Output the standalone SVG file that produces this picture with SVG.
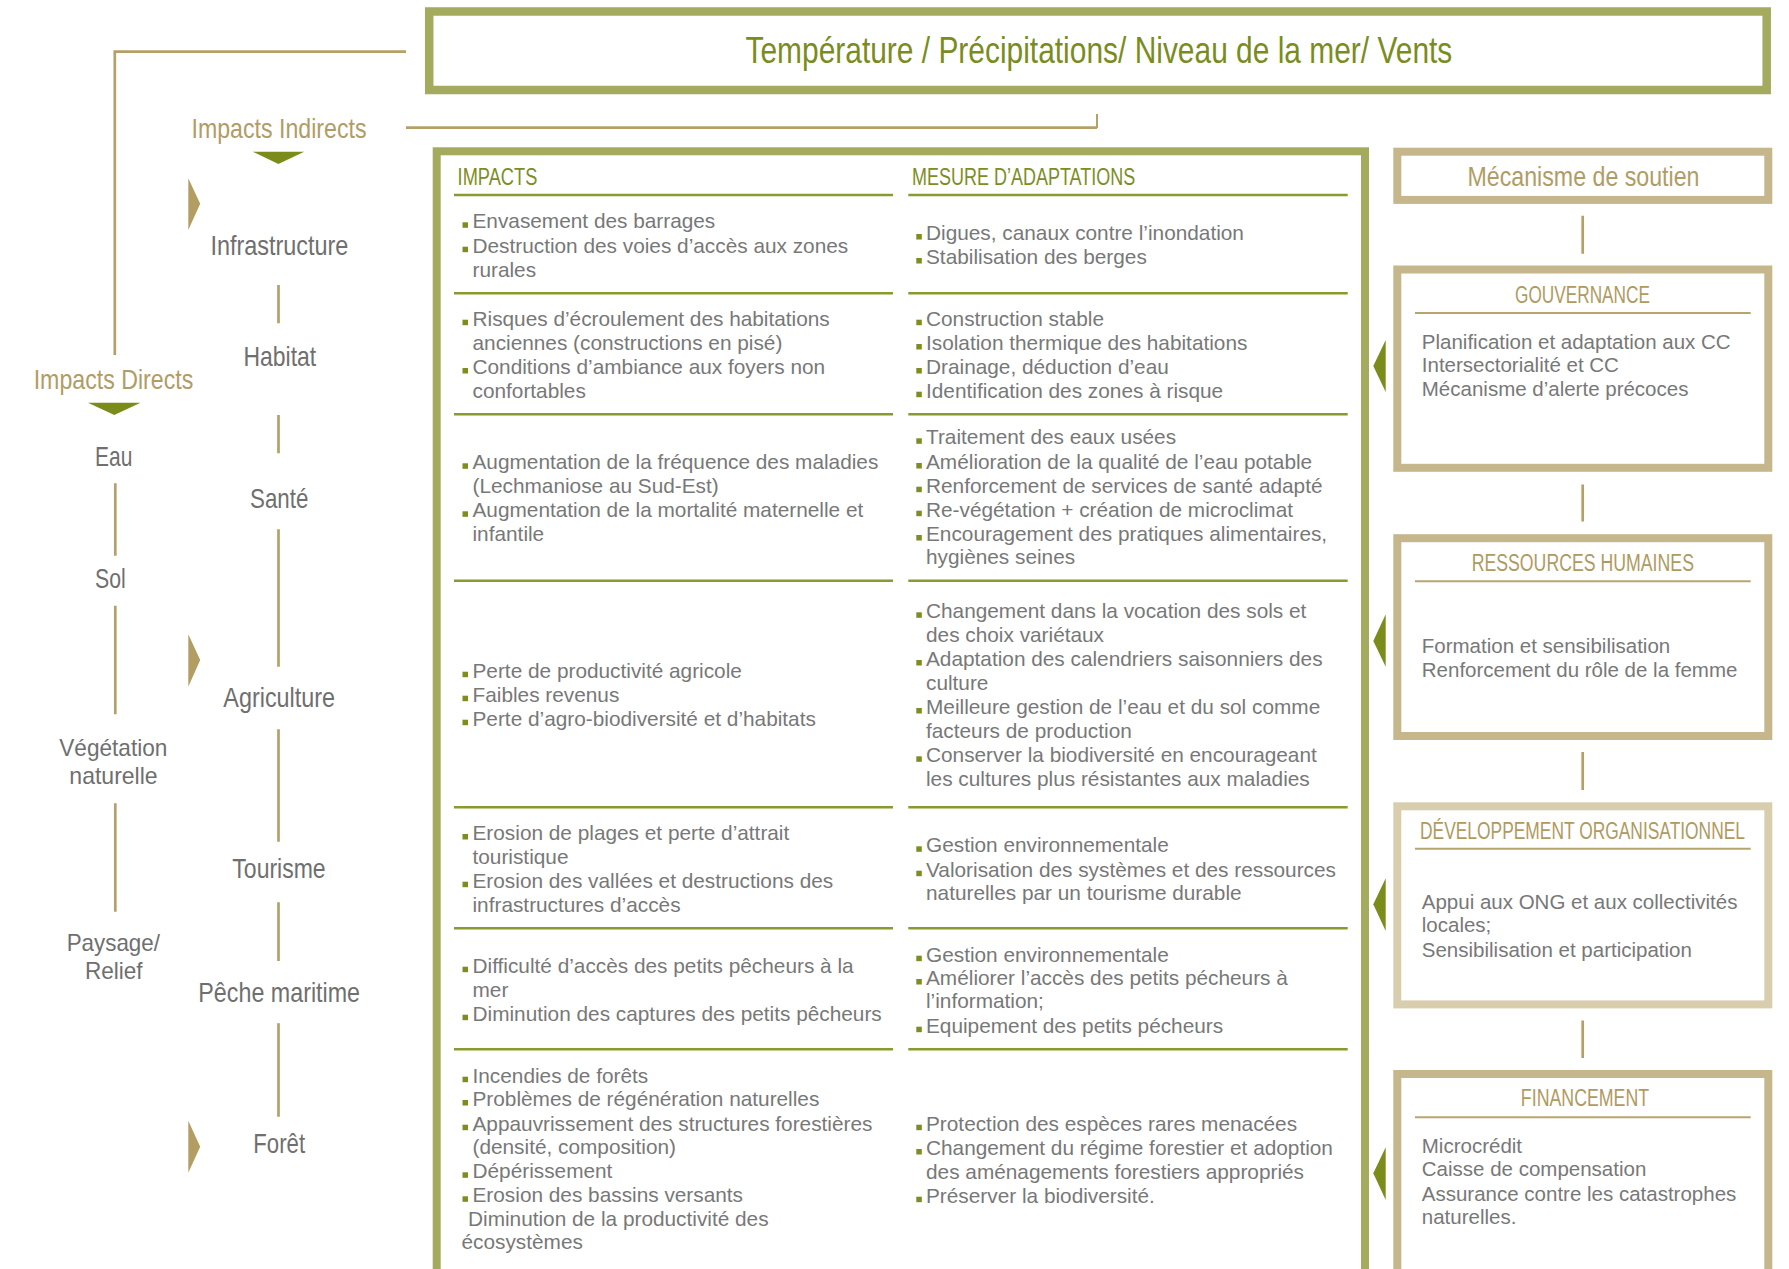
<svg xmlns="http://www.w3.org/2000/svg" width="1789" height="1269" viewBox="0 0 1789 1269">
<style>
text{font-family:"Liberation Sans",Arial,sans-serif}
.lbl{font-size:28px;fill:#6f6f6f}
.lbl2{font-size:24px;fill:#6f6f6f}
.tan{fill:#b19c65}
.title{font-size:36px;fill:#7b8c1e}
.hd{font-size:23px;fill:#7d8d1f}
.rh{font-size:23.5px;fill:#b09a60}
.body{font-size:20.8px;fill:#787878}
.rb{font-size:20.5px;fill:#787878}
.bul{fill:#7d8d1f}
.sep{stroke:#8a9a2c;stroke-width:2.5}
.ln{stroke:#b5a069;stroke-width:2.7;fill:none}
.gbox{fill:none;stroke:#a4aa5e}
.tbox{fill:none;stroke:#c6b68b;stroke-width:8}
.tline{stroke:#b8a46e;stroke-width:2}
.gtri{fill:#7b8c1a}
.ttri{fill:#b29d62}
</style>
<defs>
<rect id="b" width="5.5" height="5.5" class="bul"/>
</defs>
<rect width="1789" height="1269" fill="#ffffff"/>

<g id="connectors">
<path class="ln" d="M406 51.7H114.8V355"/>
<path class="ln" d="M406 127.7H1097"/>
<path class="ln" d="M1097 128V114" style="stroke-width:2"/>
<path class="ln" d="M278.5 285V323.3M278.5 415V453.3M278.5 529.3V666.7M278.5 729.3V841.7M278.5 902.3V961M278.5 1023.3V1116.7"/>
<path class="ln" d="M115.3 483.3V555.7M115.3 605.7V714.3M115.3 803.3V911.7"/>
<path class="ln" d="M1582.7 215.8V253.7M1582.7 484.4V521.5M1582.7 751.9V790M1582.7 1020.4V1058.1"/>
<polygon class="gtri" points="252.6,151.7 304.2,151.7 278.4,164"/>
<polygon class="gtri" points="88,402.7 140.5,402.7 114.3,415"/>
<polygon class="ttri" points="188.3,178.3 200.2,203.8 188.3,230"/>
<polygon class="ttri" points="188.3,634.3 200.2,660 188.3,686.7"/>
<polygon class="ttri" points="188.3,1120.7 200.2,1146.7 188.3,1172.7"/>
<polygon class="gtri" points="1385.7,340 1373.3,366 1385.7,392"/>
<polygon class="gtri" points="1385.7,614.3 1373.3,641 1385.7,666.7"/>
<polygon class="gtri" points="1385.7,878.3 1373.3,904.3 1385.7,931"/>
<polygon class="gtri" points="1385.7,1147.3 1373.3,1173.3 1385.7,1200"/>
</g>

<g id="climat">
<rect class="gbox" x="429.2" y="11.5" width="1337.5" height="78.5" stroke-width="8.5"/>
<text class="title" x="1098.9" y="63.3" text-anchor="middle" textLength="706.8" lengthAdjust="spacingAndGlyphs">Température / Précipitations/ Niveau de la mer/ Vents</text>
</g>

<g id="impacts-indirects">
<text class="lbl tan" x="279" y="138.3" text-anchor="middle" textLength="175" lengthAdjust="spacingAndGlyphs">Impacts Indirects</text>
</g>
<g id="impacts-directs">
<text class="lbl tan" x="113.5" y="389.3" text-anchor="middle" textLength="159.6" lengthAdjust="spacingAndGlyphs">Impacts Directs</text>
</g>

<g id="infrastructure"><text class="lbl" x="279.4" y="255" text-anchor="middle" textLength="138" lengthAdjust="spacingAndGlyphs">Infrastructure</text></g>
<g id="habitat"><text class="lbl" x="279.8" y="365.7" text-anchor="middle" textLength="72.7" lengthAdjust="spacingAndGlyphs">Habitat</text></g>
<g id="sante"><text class="lbl" x="279.2" y="508.3" text-anchor="middle" textLength="58.3" lengthAdjust="spacingAndGlyphs">Santé</text></g>
<g id="agriculture"><text class="lbl" x="279.2" y="706.7" text-anchor="middle" textLength="111.7" lengthAdjust="spacingAndGlyphs">Agriculture</text></g>
<g id="tourisme"><text class="lbl" x="279" y="878.3" text-anchor="middle" textLength="93.3" lengthAdjust="spacingAndGlyphs">Tourisme</text></g>
<g id="peche"><text class="lbl" x="279.2" y="1002.3" text-anchor="middle" textLength="161.7" lengthAdjust="spacingAndGlyphs">Pêche maritime</text></g>
<g id="foret"><text class="lbl" x="279.2" y="1153.3" text-anchor="middle" textLength="51.7" lengthAdjust="spacingAndGlyphs">Forêt</text></g>

<g id="eau"><text class="lbl" x="113.7" y="465.7" text-anchor="middle" textLength="37.3" lengthAdjust="spacingAndGlyphs">Eau</text></g>
<g id="sol"><text class="lbl" x="95" y="588.3" textLength="30.7" lengthAdjust="spacingAndGlyphs">Sol</text></g>
<g id="vegetation">
<text class="lbl2" x="113.3" y="755.5" text-anchor="middle" textLength="108" lengthAdjust="spacingAndGlyphs">Végétation</text>
<text class="lbl2" x="113.5" y="784" text-anchor="middle" textLength="88.3" lengthAdjust="spacingAndGlyphs">naturelle</text>
</g>
<g id="paysage">
<text class="lbl2" x="113.3" y="950.5" text-anchor="middle" textLength="93.3" lengthAdjust="spacingAndGlyphs">Paysage/</text>
<text class="lbl2" x="113.8" y="979" text-anchor="middle" textLength="57.7" lengthAdjust="spacingAndGlyphs">Relief</text>
</g>

<g id="tableau">
<rect class="gbox" x="436.7" y="151.3" width="928.3" height="1200" stroke-width="8"/>
<text class="hd" x="457.6" y="184.6" textLength="79.7" lengthAdjust="spacingAndGlyphs">IMPACTS</text>
<text class="hd" x="912" y="184.6" textLength="223.2" lengthAdjust="spacingAndGlyphs">MESURE D’ADAPTATIONS</text>
<g class="sep">
<line x1="454" y1="195" x2="893" y2="195"/><line x1="908.3" y1="195" x2="1347.7" y2="195"/>
<line x1="454" y1="293.3" x2="893" y2="293.3"/><line x1="908.3" y1="293.3" x2="1347.7" y2="293.3"/>
<line x1="454" y1="414.3" x2="893" y2="414.3"/><line x1="908.3" y1="414.3" x2="1347.7" y2="414.3"/>
<line x1="454" y1="580.7" x2="893" y2="580.7"/><line x1="908.3" y1="580.7" x2="1347.7" y2="580.7"/>
<line x1="454" y1="807.3" x2="893" y2="807.3"/><line x1="908.3" y1="807.3" x2="1347.7" y2="807.3"/>
<line x1="454" y1="928.3" x2="893" y2="928.3"/><line x1="908.3" y1="928.3" x2="1347.7" y2="928.3"/>
<line x1="454" y1="1049.3" x2="893" y2="1049.3"/><line x1="908.3" y1="1049.3" x2="1347.7" y2="1049.3"/>
</g>

<g id="impacts-col">
<use href="#b" x="462.5" y="222.3"/><text class="body" x="472.5" y="228.3">Envasement des barrages</text>
<use href="#b" x="462.5" y="246.7"/><text class="body" x="472.5" y="252.7">Destruction des voies d’accès aux zones</text>
<text class="body" x="472.5" y="276.7">rurales</text>

<use href="#b" x="462.5" y="319.7"/><text class="body" x="472.5" y="325.7">Risques d’écroulement des habitations</text>
<text class="body" x="472.5" y="350">anciennes (constructions en pisé)</text>
<use href="#b" x="462.5" y="368"/><text class="body" x="472.5" y="374">Conditions d’ambiance aux foyers non</text>
<text class="body" x="472.5" y="397.7">confortables</text>

<use href="#b" x="462.5" y="463.3"/><text class="body" x="472.5" y="469.3">Augmentation de la fréquence des maladies</text>
<text class="body" x="472.5" y="493.3">(Lechmaniose au Sud-Est)</text>
<use href="#b" x="462.5" y="511.3"/><text class="body" x="472.5" y="517.3">Augmentation de la mortalité maternelle et</text>
<text class="body" x="472.5" y="541">infantile</text>

<use href="#b" x="462.5" y="671.7"/><text class="body" x="472.5" y="677.7">Perte de productivité agricole</text>
<use href="#b" x="462.5" y="695.7"/><text class="body" x="472.5" y="701.7">Faibles revenus</text>
<use href="#b" x="462.5" y="719.7"/><text class="body" x="472.5" y="725.7">Perte d’agro-biodiversité et d’habitats</text>

<use href="#b" x="462.5" y="834"/><text class="body" x="472.5" y="840">Erosion de plages et perte d’attrait</text>
<text class="body" x="472.5" y="863.7">touristique</text>
<use href="#b" x="462.5" y="881.7"/><text class="body" x="472.5" y="887.7">Erosion des vallées et destructions des</text>
<text class="body" x="472.5" y="911.7">infrastructures d’accès</text>

<use href="#b" x="462.5" y="966.7"/><text class="body" x="472.5" y="972.7">Difficulté d’accès des petits pêcheurs à la</text>
<text class="body" x="472.5" y="996.7">mer</text>
<use href="#b" x="462.5" y="1014.7"/><text class="body" x="472.5" y="1020.7">Diminution des captures des petits pêcheurs</text>

<use href="#b" x="462.5" y="1076.7"/><text class="body" x="472.5" y="1082.7">Incendies de forêts</text>
<use href="#b" x="462.5" y="1100"/><text class="body" x="472.5" y="1106">Problèmes de régénération naturelles</text>
<use href="#b" x="462.5" y="1124.7"/><text class="body" x="472.5" y="1130.7">Appauvrissement des structures forestières</text>
<text class="body" x="472.5" y="1154.3">(densité, composition)</text>
<use href="#b" x="462.5" y="1172.3"/><text class="body" x="472.5" y="1178.3">Dépérissement</text>
<use href="#b" x="462.5" y="1196.3"/><text class="body" x="472.5" y="1202.3">Erosion des bassins versants</text>
<text class="body" x="468" y="1226">Diminution de la productivité des</text>
<text class="body" x="461.5" y="1249.3">écosystèmes</text>
</g>

<g id="mesures-col">
<use href="#b" x="916.3" y="234"/><text class="body" x="926" y="240">Digues, canaux contre l’inondation</text>
<use href="#b" x="916.3" y="258"/><text class="body" x="926" y="264">Stabilisation des berges</text>

<use href="#b" x="916.3" y="319.7"/><text class="body" x="926" y="325.7">Construction stable</text>
<use href="#b" x="916.3" y="344"/><text class="body" x="926" y="350">Isolation thermique des habitations</text>
<use href="#b" x="916.3" y="368"/><text class="body" x="926" y="374">Drainage, déduction d’eau</text>
<use href="#b" x="916.3" y="391.7"/><text class="body" x="926" y="397.7">Identification des zones à risque</text>

<use href="#b" x="916.3" y="438.3"/><text class="body" x="926" y="444.3">Traitement des eaux usées</text>
<use href="#b" x="916.3" y="463"/><text class="body" x="926" y="469">Amélioration de la qualité de l’eau potable</text>
<use href="#b" x="916.3" y="486.7"/><text class="body" x="926" y="492.7">Renforcement de services de santé adapté</text>
<use href="#b" x="916.3" y="510.7"/><text class="body" x="926" y="516.7">Re-végétation + création de microclimat</text>
<use href="#b" x="916.3" y="535"/><text class="body" x="926" y="541">Encouragement des pratiques alimentaires,</text>
<text class="body" x="926" y="564.3">hygiènes seines</text>

<use href="#b" x="916.3" y="612.3"/><text class="body" x="926" y="618.3">Changement dans la vocation des sols et</text>
<text class="body" x="926" y="641.7">des choix variétaux</text>
<use href="#b" x="916.3" y="660"/><text class="body" x="926" y="666">Adaptation des calendriers saisonniers des</text>
<text class="body" x="926" y="690">culture</text>
<use href="#b" x="916.3" y="708"/><text class="body" x="926" y="714">Meilleure gestion de l’eau et du sol comme</text>
<text class="body" x="926" y="738.3">facteurs de production</text>
<use href="#b" x="916.3" y="756.3"/><text class="body" x="926" y="762.3">Conserver la biodiversité en encourageant</text>
<text class="body" x="926" y="785.7">les cultures plus résistantes aux maladies</text>

<use href="#b" x="916.3" y="846.3"/><text class="body" x="926" y="852.3">Gestion environnementale</text>
<use href="#b" x="916.3" y="870.7"/><text class="body" x="926" y="876.7">Valorisation des systèmes et des ressources</text>
<text class="body" x="926" y="900">naturelles par un tourisme durable</text>

<use href="#b" x="916.3" y="955.7"/><text class="body" x="926" y="961.7">Gestion environnementale</text>
<use href="#b" x="916.3" y="979"/><text class="body" x="926" y="985">Améliorer l’accès des petits pécheurs à</text>
<text class="body" x="926" y="1008.3">l’information;</text>
<use href="#b" x="916.3" y="1026.7"/><text class="body" x="926" y="1032.7">Equipement des petits pécheurs</text>

<use href="#b" x="916.3" y="1124.7"/><text class="body" x="926" y="1130.7">Protection des espèces rares menacées</text>
<use href="#b" x="916.3" y="1149"/><text class="body" x="926" y="1155">Changement du régime forestier et adoption</text>
<text class="body" x="926" y="1179">des aménagements forestiers appropriés</text>
<use href="#b" x="916.3" y="1196.7"/><text class="body" x="926" y="1202.7">Préserver la biodiversité.</text>
</g>
</g>

<g id="mecanisme">
<rect class="tbox" x="1397.3" y="151.7" width="371" height="48.2"/>
<text class="lbl tan" x="1583.5" y="185.9" text-anchor="middle" textLength="232" lengthAdjust="spacingAndGlyphs">Mécanisme de soutien</text>
</g>

<g id="gouvernance">
<rect class="tbox" x="1397.3" y="269.5" width="371" height="198.3"/>
<text class="rh" x="1582.5" y="302.6" text-anchor="middle" textLength="135" lengthAdjust="spacingAndGlyphs">GOUVERNANCE</text>
<line class="tline" x1="1415" y1="313" x2="1750.7" y2="313"/>
<text class="rb" x="1421.8" y="348.6">Planification et adaptation aux CC</text>
<text class="rb" x="1421.8" y="371.9">Intersectorialité et CC</text>
<text class="rb" x="1421.8" y="395.6">Mécanisme d’alerte précoces</text>
</g>

<g id="ressources-humaines">
<rect class="tbox" x="1397.3" y="538.2" width="371" height="197.8"/>
<text class="rh" x="1582.8" y="571.3" text-anchor="middle" textLength="222.3" lengthAdjust="spacingAndGlyphs">RESSOURCES HUMAINES</text>
<line class="tline" x1="1415" y1="581.2" x2="1750.7" y2="581.2"/>
<text class="rb" x="1421.8" y="652.8">Formation et sensibilisation</text>
<text class="rb" x="1421.8" y="676.5">Renforcement du rôle de la femme</text>
</g>

<g id="developpement-organisationnel">
<rect class="tbox" x="1397.3" y="806.3" width="371" height="198.1" style="stroke:#d8ceae"/>
<text class="rh" transform="translate(1582.5 838.6) scale(1 1.4)" x="0" y="0" text-anchor="middle" textLength="325" lengthAdjust="spacingAndGlyphs" style="font-size:16.8px">DÉVELOPPEMENT ORGANISATIONNEL</text>
<line class="tline" x1="1415" y1="848.8" x2="1750.7" y2="848.8"/>
<text class="rb" x="1421.8" y="908.6">Appui aux ONG et aux collectivités</text>
<text class="rb" x="1421.8" y="932.2">locales;</text>
<text class="rb" x="1421.8" y="956.9">Sensibilisation et participation</text>
</g>

<g id="financement">
<rect class="tbox" x="1397.3" y="1074" width="371" height="300"/>
<text class="rh" x="1585" y="1106.4" text-anchor="middle" textLength="128.3" lengthAdjust="spacingAndGlyphs">FINANCEMENT</text>
<line class="tline" x1="1415" y1="1117.3" x2="1750.7" y2="1117.3"/>
<text class="rb" x="1421.8" y="1152.8">Microcrédit</text>
<text class="rb" x="1421.8" y="1176.4">Caisse de compensation</text>
<text class="rb" x="1421.8" y="1200.7">Assurance contre les catastrophes</text>
<text class="rb" x="1421.8" y="1224.3">naturelles.</text>
</g>
</svg>
